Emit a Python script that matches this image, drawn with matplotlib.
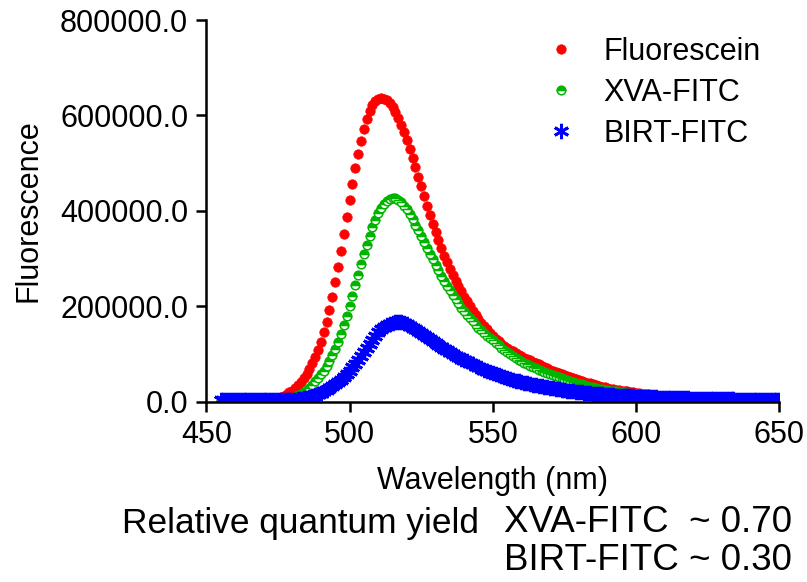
import numpy as np
import matplotlib
matplotlib.use("Agg")
import matplotlib.pyplot as plt
from matplotlib.ticker import FormatStrFormatter

plt.rcParams['font.family'] = ['Liberation Sans', 'DejaVu Sans']

# Wavelength (nm), one reading per nm
wavelength = np.arange(455, 651)

# Fluorescence values, in thousands of counts
fluorescein_k = [
    1, 1, 1, 1, 1, 1, 1, 1, 1, 1,
    1, 1.5, 1.5, 2, 2, 2.5, 3, 4, 5, 6,
    8, 10, 12, 15, 19, 23, 28, 34, 41, 49,
    58, 68, 80, 93, 108, 125, 145, 167, 192, 220,
    250, 282, 316, 352, 387, 422, 456, 489, 519, 547,
    572, 593, 610, 622, 630, 634, 636, 635, 632, 626,
    618, 607, 594, 580, 565, 548, 530, 511, 491, 471,
    451, 431, 411, 392, 373, 356, 339, 322, 306, 292,
    278, 265, 253, 242, 231, 220, 210, 200, 190, 181,
    173, 165, 158, 151, 144, 138, 132, 126, 121, 116,
    112, 108, 105, 101, 98, 95, 92, 89, 86, 83,
    80, 78, 75, 72, 70, 67, 65, 62, 60, 58,
    55, 53, 51, 49, 47, 45, 43, 41, 39, 38,
    36, 34, 33, 31, 30, 28, 27, 26, 25, 24,
    23, 22, 21, 20, 19, 18, 17, 16.5, 16, 15,
    14, 13.5, 13, 12, 11.5, 11, 10.5, 10, 9.5, 9,
    8.5, 8, 8, 7.5, 7, 7, 6.5, 6.5, 6, 6,
    5.5, 5.5, 5, 5, 5, 4.5, 4.5, 4.5, 4, 4,
    4, 4, 3.5, 3.5, 3.5, 3.5, 3, 3, 3, 3,
    3, 2.5, 2.5, 2.5, 2.5, 2.5,
]

xva_fitc_k = [
    1, 1, 1, 1, 1, 1, 1, 1, 1, 1,
    1, 1, 1, 1, 1, 1, 1.5, 2, 2, 2.5,
    3, 3.5, 4, 5, 6, 8, 10, 13, 16, 20,
    24, 29, 35, 42, 49, 57, 65, 74, 85, 97,
    110, 125, 141, 160, 180, 201, 222, 244, 266, 288,
    309, 329, 347, 365, 381, 395, 406, 415, 421, 425,
    427, 426, 423, 418, 411, 403, 393, 382, 371, 359,
    347, 335, 322, 310, 298, 286, 275, 264, 253, 243,
    233, 224, 215, 206, 197, 189, 182, 175, 168, 161,
    155, 149, 143, 138, 133, 128, 123, 118, 113, 108,
    103, 99, 95, 91, 87, 84, 81, 78, 75, 72,
    70, 67, 65, 62, 60, 57, 55, 53, 51, 49,
    47, 45, 43, 41, 39, 37, 36, 34, 33, 31,
    30, 29, 27, 26, 25, 24, 23, 22, 21, 20,
    19, 18, 17, 16.5, 16, 15, 14.5, 14, 13, 12.5,
    12, 11.5, 11, 10, 9.5, 9, 8.5, 8, 8, 7.5,
    7, 7, 6.5, 6.5, 6, 6, 5.5, 5.5, 5, 5,
    5, 4.5, 4.5, 4.5, 4, 4, 4, 4, 3.5, 3.5,
    3.5, 3.5, 3, 3, 3, 3, 3, 2.5, 2.5, 2.5,
    2.5, 2.5, 2, 2, 2, 2,
]

birt_fitc_k = [
    3, 3, 3, 3, 3, 3, 3, 3, 3, 3,
    3, 3, 3, 3, 3, 3, 3, 3, 3, 3.5,
    3.5, 3.5, 3.5, 3.5, 4, 4, 4, 5, 6, 7,
    8, 10, 11, 13, 15, 18, 21, 24, 28, 32,
    36, 41, 46, 52, 58, 65, 72, 79, 87, 95,
    103, 112, 121, 130, 138, 145, 151, 156, 160, 163,
    165, 166, 167, 166, 165, 162, 159, 155, 151, 147,
    143, 139, 135, 131, 127, 123, 119, 115, 111, 107,
    103, 100, 96, 93, 90, 87, 84, 81, 78, 75,
    72, 70, 67, 65, 62, 60, 58, 56, 54, 52,
    50, 48, 46, 44, 43, 41, 39.5, 38, 36.5, 35,
    34, 33, 31.5, 30.5, 29.5, 28.5, 27.5, 26.5, 25.5, 24.5,
    23.5, 23, 22, 21, 20.5, 20, 19, 18.5, 18, 17,
    16.5, 16, 15.5, 15, 14.5, 14, 13.5, 13, 12.5, 12,
    12, 11.5, 11, 11, 10.5, 10, 10, 9.5, 9.5, 9,
    9, 8.5, 8.5, 8, 8, 7.5, 7.5, 7.5, 7, 7,
    7, 6.5, 6.5, 6.5, 6, 6, 6, 5.5, 5.5, 5.5,
    5.5, 5, 5, 5, 5, 4.5, 4.5, 4.5, 4.5, 4.5,
    4, 4, 4, 4, 4, 3.5, 3.5, 3.5, 3.5, 3.5,
    3, 3, 3, 3, 3, 3,
]

series_names = ["Fluorescein", "XVA-FITC", "BIRT-FITC"]
x_ticks = [450, 500, 550, 600, 650]
y_ticks = [0, 200000, 400000, 600000, 800000]
yield_lines = ["XVA-FITC  ~ 0.70", "BIRT-FITC ~ 0.30"]

fluorescein = np.array(fluorescein_k) * 1000
xva_fitc = np.array(xva_fitc_k) * 1000
birt_fitc = np.array(birt_fitc_k) * 1000

fig = plt.figure(figsize=(8.07, 5.82), dpi=100)
ax = fig.add_axes([206.3 / 807, 1 - 401.5 / 582, (779.3 - 206.3) / 807, (401.5 - 20) / 582])

FS = 22
RED = '#FF0000'
GREEN = '#00B400'
BLUE = '#0000FF'

ax.plot(wavelength, fluorescein, linestyle='none', marker='o', markersize=6.8,
        markerfacecolor=RED, markeredgecolor=RED, markeredgewidth=0.5, label=series_names[0])
ax.plot(wavelength, xva_fitc, linestyle='none', marker='o', markersize=6.2,
        fillstyle='top', markerfacecolor=GREEN, markerfacecoloralt='white',
        markeredgecolor=GREEN, markeredgewidth=1.1, label=series_names[1])
ax.plot(wavelength, birt_fitc, linestyle='none', marker=(6, 2, 0), markersize=11,
        markeredgecolor=BLUE, markerfacecolor=BLUE, markeredgewidth=2.0, label=series_names[2])

ax.set_xlim(450, 650)
ax.set_ylim(0, 800000)
ax.set_xticks(x_ticks)
ax.set_yticks(y_ticks)
ax.yaxis.set_major_formatter(FormatStrFormatter('%.1f'))
ax.spines['top'].set_visible(False)
ax.spines['right'].set_visible(False)
for s in ('left', 'bottom'):
    ax.spines[s].set_linewidth(1.8)
ax.tick_params(axis='both', which='major', direction='out', length=7, width=1.8,
               labelsize=FS, pad=6)
for sp in ax.spines.values():
    sp.set_clip_on(False)

ax.set_xlabel("Wavelength (nm)", fontsize=FS, labelpad=12)
ax.set_ylabel("Fluorescence", fontsize=FS, labelpad=12)

leg = ax.legend(loc='upper left', bbox_to_anchor=(0.571, 0.987), frameon=False,
                fontsize=FS, handlelength=1.0, handletextpad=0.9, labelspacing=0.35,
                borderaxespad=0, numpoints=1, markerscale=1.0)

fig.text(478.5 / 807, 1 - 532.5 / 582, "Relative quantum yield", fontsize=25.4,
         ha='right', va='baseline')
baselines = [532.5, 569.5]
for line, yb in zip(yield_lines, baselines):
    fig.text(504 / 807, 1 - yb / 582, line, fontsize=26.5, ha='left', va='baseline')

fig.savefig("out.png", dpi=100)
